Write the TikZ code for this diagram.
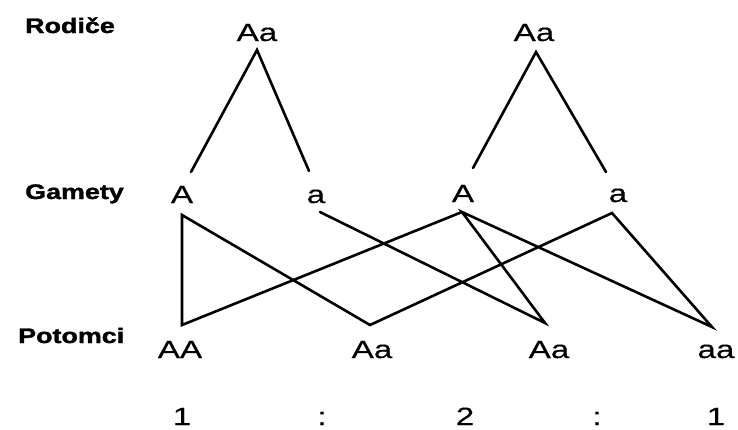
\documentclass[tikz,border=0pt]{standalone}
\usepackage{fontspec}
\setmainfont{Liberation Sans}
\newfontfamily\genfont{Liberation Sans}[FakeStretch=1.33,FakeBold=0.3]
\newfontfamily\labfont{Liberation Sans}[FakeStretch=1.28,FakeBold=1.6]
\begin{document}
\begin{tikzpicture}[x=1pt,y=-1pt,
  gen/.style={font=\genfont\fontsize{25}{25}\selectfont, inner sep=0pt, anchor=base},
  lab/.style={font=\labfont\bfseries\fontsize{21}{21}\selectfont, inner sep=0pt, anchor=base west},
  link/.style={line width=2.6pt, line join=miter, line cap=round}]
\useasboundingbox (0,0) rectangle (738,429);
% row labels
\node[lab] (rod) at (25,33) {Rodiče};
\node[lab] (gam) at (25,199) {Gamety};
\node[lab] (pot) at (18,343) {Potomci};
% parents
\node[gen] (p1) at (257,41) {Aa};
\node[gen] (p2) at (534,41) {Aa};
% gametes
\node[gen] (g1) at (182,203) {A};
\node[gen] (g2) at (316,203) {a};
\node[gen] (g3) at (463,202) {A};
\node[gen] (g4) at (618,202) {a};
% offspring
\node[gen] (o1) at (180,358) {AA};
\node[gen] (o2) at (372,358) {Aa};
\node[gen] (o3) at (549,358) {Aa};
\node[gen] (o4) at (716,358) {aa};
% ratio
\node[gen] (r1) at (182,425) {1};
\node[gen] (r2) at (322,425) {:};
\node[gen] (r3) at (465,425) {2};
\node[gen] (r4) at (597,425) {:};
\node[gen] (r5) at (716,425) {1};
% line end points
\coordinate (p1b) at (257,50);
\coordinate (p2b) at (536,52);
\coordinate (g1t) at (191,172);
\coordinate (g2t) at (309,171);
\coordinate (g3t) at (473,168);
\coordinate (g4t) at (606,172);
\coordinate (g1b) at (182,215);
\coordinate (g2b) at (320,212);
\coordinate (g3b) at (462,212);
\coordinate (g4b) at (612,213);
\coordinate (o1t) at (182,325);
\coordinate (o2t) at (370,325);
\coordinate (o3t) at (545,323);
\coordinate (o4t) at (712,327);
% parent to gametes
\draw[link] (g1t) -- (p1b) -- (g2t);
\draw[link] (g3t) -- (p2b) -- (g4t);
% gametes to offspring
\draw[link] (g3b) -- (o1t) -- (g1b) -- (o2t) -- (g4b) -- (o4t) -- (g3b) -- (o3t) -- (g2b);
\end{tikzpicture}
\end{document}
